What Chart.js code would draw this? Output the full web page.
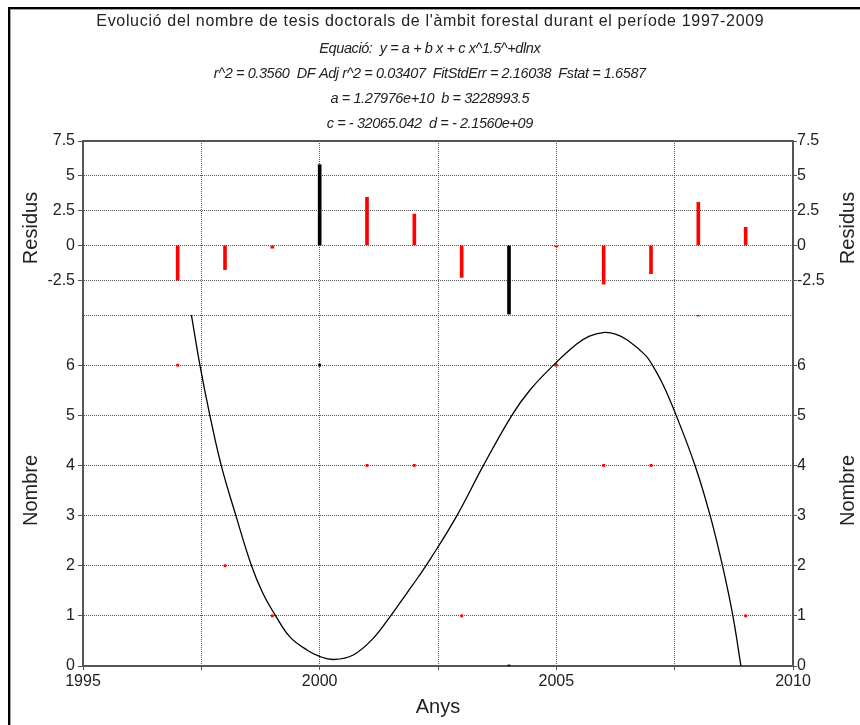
<!DOCTYPE html>
<html><head><meta charset="utf-8">
<script src="https://cdn.jsdelivr.net/npm/chart.js@4"></script>
<style>
html,body{margin:0;padding:0;background:#fff;}
#wrap{position:relative;width:860px;height:725px;overflow:hidden;}
#frame{position:absolute;left:8px;top:7px;right:-10px;bottom:-10px;border-left:2px solid #000;border-top:2px solid #000;}
#frame2{position:absolute;left:10px;top:9px;right:-10px;bottom:-10px;border-left:1px solid #a0a0a0;border-top:1px solid #a0a0a0;}
canvas{position:absolute;left:0;top:0;}
</style></head><body>
<div id="wrap"><div id="frame"></div><div id="frame2"></div><canvas id="c" width="860" height="725"></canvas></div>
<script>
// ---- data ----
const years     = [1997, 1998, 1999, 2000, 2001, 2002, 2003, 2004, 2005, 2006, 2007, 2008, 2009];
const observed  = [6, 2, 1, 6, 4, 4, 1, 0, 6, 4, 4, 7, 1];
const residuals = [-2.5, -1.74, -0.2, 5.8, 3.45, 2.25, -2.3, -4.93, -0.1, -2.78, -2.03, 3.09, 1.3];
const outlierYears = [2000, 2004];
const fitX = [1997.29, 1997.47, 1997.68, 1997.92, 1998.23, 1998.56, 1998.8, 1999.07, 1999.37, 1999.73, 2000.0, 2000.3, 2000.71, 2001.13, 2001.5, 2001.84, 2002.08, 2002.33, 2002.9, 2003.46, 2004.06, 2004.44, 2004.94, 2005.43, 2005.7, 2005.99, 2006.25, 2006.5, 2006.88, 2007.01, 2007.25, 2007.51, 2007.93, 2008.25, 2008.51, 2008.73, 2008.9];
const fitY = [7, 6, 5, 4, 3, 2, 1.45, 1, 0.58, 0.32, 0.19, 0.13, 0.22, 0.55, 1, 1.45, 1.77, 2.12, 3, 4, 5, 5.5, 6, 6.42, 6.58, 6.65, 6.62, 6.5, 6.2, 6.03, 5.62, 5.05, 4, 3, 2, 1, 0];
const titleText = "Evolució del nombre de tesis doctorals de l'àmbit forestal durant el període 1997-2009";
const subtitleLines = [
  "Equació:  y = a + b x + c x^1.5^+dlnx",
  "r^2 = 0.3560  DF Adj r^2 = 0.03407  FitStdErr = 2.16038  Fstat = 1.6587",
  "a = 1.27976e+10  b = 3228993.5",
  "c = - 32065.042  d = - 2.1560e+09"
];
const xLabel = "Anys";
const resLabel = "Residus";
const numLabel = "Nombre";
const xRange = [1995, 2010];
const resRange = [-5, 7.5];
const numRange = [0, 7];

// ---- styling ----
const FONT = "'Liberation Sans', Arial, sans-serif";
const AXIS = '#555';
const GRID = '#555';
const TXT = '#222';
const TITLE_SIZE = 16;
const TITLE_TARGET_WIDTH = 668;
const SUB_SIZE = 14.5;
const SUB_TARGET_WIDTH = 432;   // width of the r^2 line in the reference

const isOut = y => outlierYears.includes(y);
const pts = years.map((y, i) => ({x: y, y: observed[i]}));
const res = years.map((y, i) => ({x: y, y: residuals[i]}));
const fit = fitX.map((x, i) => ({x: x, y: fitY[i]}));

const tickFont = {family: FONT, size: 16};
const titleFont = {family: FONT, size: 20};

function yAxis(pos, range, step, hideVal, weight, withTitle, label, showGrid) {
  return {
    type: 'linear', position: pos, stack: pos, stackWeight: weight,
    min: range[0], max: range[1],
    afterFit: s => { s.width = pos === 'left' ? 83 : 67; },
    ticks: {
      stepSize: step, font: tickFont, color: TXT, padding: pos === 'left' ? 3 : 0,
      callback: v => (Math.abs(v - hideVal) < 1e-9 ? '' : String(v))
    },
    grid: {
      drawOnChartArea: showGrid, color: GRID, lineWidth: 1, tickLength: pos === 'left' ? 5 : 4,
      tickColor: c => (c.tick && Math.abs(c.tick.value - hideVal) < 1e-9 ? 'rgba(0,0,0,0)' : AXIS),
      tickBorderDash: []
    },
    border: {display: true, color: AXIS, width: 2, dash: [1, 1]},
    title: {display: withTitle, text: label, font: titleFont, color: TXT, padding: {top: 19, bottom: 0}}
  };
}

const framePlugin = {
  id: 'framePlugin',
  afterDraw(chart) {
    const {ctx, chartArea: a, scales} = chart;
    ctx.save();
    ctx.strokeStyle = AXIS; ctx.lineWidth = 2; ctx.setLineDash([]);
    ctx.beginPath(); ctx.moveTo(a.left - 1, a.top); ctx.lineTo(a.right + 1, a.top); ctx.stroke();
    // right-hand axis titles, reading bottom to top like the left ones
    ctx.fillStyle = TXT; ctx.font = '20px ' + FONT;
    ctx.textAlign = 'center'; ctx.textBaseline = 'middle';
    [[scales.yRes2, resLabel], [scales.yNum2, numLabel]].forEach(([s, t]) => {
      const cy = (s.top + s.bottom) / 2;
      ctx.save(); ctx.translate(848, cy); ctx.rotate(-Math.PI / 2); ctx.fillText(t, 0, 0); ctx.restore();
    });
    ctx.restore();
  }
};

const chart = new Chart(document.getElementById('c'), {
  data: {
    datasets: [
      {type: 'line', data: fit, xAxisID: 'x', yAxisID: 'yNum', borderColor: '#000', borderWidth: 1.3,
       pointRadius: 0, fill: false, tension: 0.4, order: 1},
      {type: 'scatter', data: pts, xAxisID: 'x', yAxisID: 'yNum', pointStyle: 'rect', pointRadius: 2,
       borderWidth: 0, backgroundColor: pts.map(p => isOut(p.x) ? '#000' : '#ff0000'), order: 0},
      {type: 'bar', data: res, xAxisID: 'x', yAxisID: 'yRes', barThickness: 3,
       backgroundColor: res.map(p => isOut(p.x) ? '#000' : '#ff0000'), borderWidth: 0, order: 2}
    ]
  },
  options: {
    responsive: false, animation: false, devicePixelRatio: 1,
    layout: {padding: 0},
    plugins: {
      legend: {display: false}, tooltip: {enabled: false},
      title: {display: true, text: titleText, color: TXT,
              font: {family: FONT, size: TITLE_SIZE, weight: 'normal', lineHeight: '18px'},
              padding: {top: 13, bottom: 0}},
      subtitle: {display: true, text: subtitleLines, color: TXT,
                 font: {family: FONT, size: SUB_SIZE, style: 'italic', lineHeight: '25px'},
                 padding: {top: 5.5, bottom: 4.5}}
    },
    scales: {
      x: {
        type: 'linear', position: 'bottom', min: xRange[0], max: xRange[1], offset: false,
        afterFit: s => { s.height = 59; },
        ticks: {stepSize: 2.5, font: tickFont, color: TXT, padding: 2, maxRotation: 0, autoSkip: false,
                callback: v => (v % 5 === 0 ? String(v) : '')},
        grid: {offset: false, color: GRID, lineWidth: 1, tickLength: 4, tickColor: AXIS, tickBorderDash: []},
        border: {display: true, color: AXIS, width: 2, dash: [1, 1]},
        title: {display: true, text: xLabel, font: titleFont, color: TXT, padding: {top: 0, bottom: 6}}
      },
      yNum: yAxis('left', numRange, 1, 7, 351, true, numLabel, true),
      yRes: yAxis('left', resRange, 2.5, -5, 174, true, resLabel, true),
      yRes2: yAxis('right', resRange, 2.5, -5, 174, false, resLabel, false),
      yNum2: yAxis('right', numRange, 1, 7, 351, false, numLabel, false)
    }
  },
  plugins: [framePlugin]
});

// adjust letter spacing of title / subtitle so their widths match the reference's typeface
(function () {
  const ctx = chart.ctx;
  function spacingFor(font, text, target) {
    ctx.save(); ctx.font = font;
    const w = ctx.measureText(text).width;
    ctx.restore();
    return (target - w) / text.length;
  }
  function patch(block, spacing) {
    if (!block || typeof block.draw !== 'function') return;
    const orig = block.draw.bind(block);
    block.draw = function () {
      const c = this.ctx;
      c.save();
      c.letterSpacing = spacing.toFixed(2) + 'px';
      c.translate(spacing / 2, 0);
      orig();
      c.restore();
    };
  }
  const titleBox = chart.titleBlock;
  const subBox = (chart.boxes || []).find(b => b !== titleBox && b.options && Array.isArray(b.options.text));
  patch(titleBox, spacingFor(TITLE_SIZE + 'px ' + FONT, titleText, TITLE_TARGET_WIDTH));
  patch(subBox, spacingFor('italic ' + SUB_SIZE + 'px ' + FONT, subtitleLines[1], SUB_TARGET_WIDTH));
  chart.draw();
})();
</script>
</body></html>
